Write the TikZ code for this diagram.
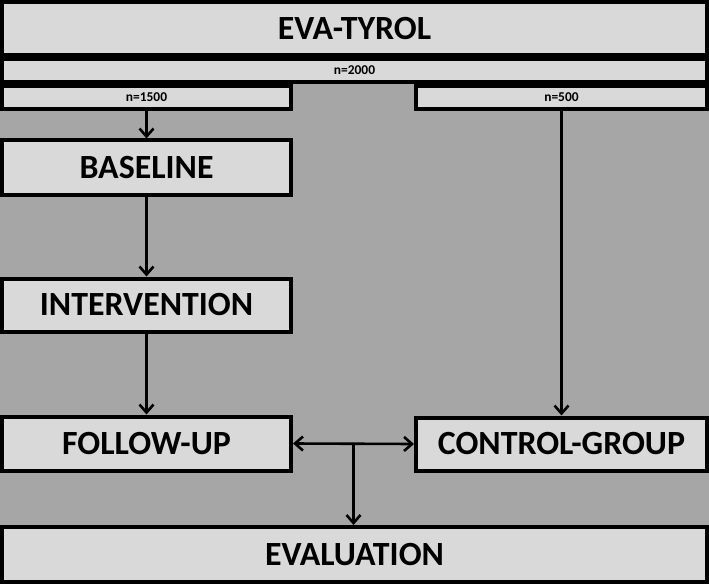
\documentclass[tikz,border=0pt]{standalone}
\usepackage{fontspec}
\setmainfont{Carlito}
\usetikzlibrary{arrows.meta,calc}
\definecolor{bggray}{HTML}{A6A6A6}
\definecolor{boxgray}{HTML}{D9D9D9}
\tikzset{
  box/.style={draw=black, line width=4bp, fill=boxgray, rectangle, inner sep=0pt,
    font=\fontsize{34}{38}\selectfont\bfseries},
  smallbox/.style={box, font=\fontsize{13.5}{15}\selectfont\bfseries},
  tip/.tip={Straight Barb[length=8bp,width=14bp,line width=2.6bp]},
  conn/.style={line width=2.6bp, -tip},
  dconn/.style={line width=2.6bp, tip-tip}
}
\begin{document}
\begin{tikzpicture}[x=1bp,y=-1bp]
\fill[bggray] (0,0) rectangle (709,584);
\useasboundingbox (0,0) rectangle (709,584);
% boxes: centre (x,y), size w x h (border centre lines)
\node[box, minimum width=705bp, minimum height=53bp] (eva) at (354.5,28.5) {EVA-TYROL};
\node[smallbox, minimum width=705bp, minimum height=23bp] (n2000) at (354.5,70.5) {n=2000};
\node[smallbox, minimum width=289bp, minimum height=23bp] (n1500) at (146.5,97.5) {n=1500};
\node[smallbox, minimum width=291bp, minimum height=23bp] (n500) at (561.5,97.5) {n=500};
\node[box, minimum width=289bp, minimum height=54.5bp] (base) at (146.5,167.75) {BASELINE};
\node[box, minimum width=289bp, minimum height=53bp] (interv) at (146.5,305) {INTERVENTION};
\node[box, minimum width=289bp, minimum height=54bp] (follow) at (146.5,443.5) {FOLLOW-UP};
\node[box, minimum width=291bp, minimum height=53bp] (control) at (561.5,444) {CONTROL-GROUP};
\node[box, minimum width=705bp, minimum height=54.5bp] (evalu) at (354.5,554.25) {EVALUATION};
% connectors
\draw[conn] (n1500.south) -- (base.north);
\draw[conn] (base.south) -- (interv.north);
\draw[conn] (interv.south) -- (follow.north);
\draw[conn] (n500.south) -- (control.north);
\draw[dconn] (follow.east) -- (control.west);
\coordinate (junc) at ($(follow.east)!0.5!(control.west)$);
\draw[conn] (junc) -- (junc |- evalu.north);
\end{tikzpicture}
\end{document}
